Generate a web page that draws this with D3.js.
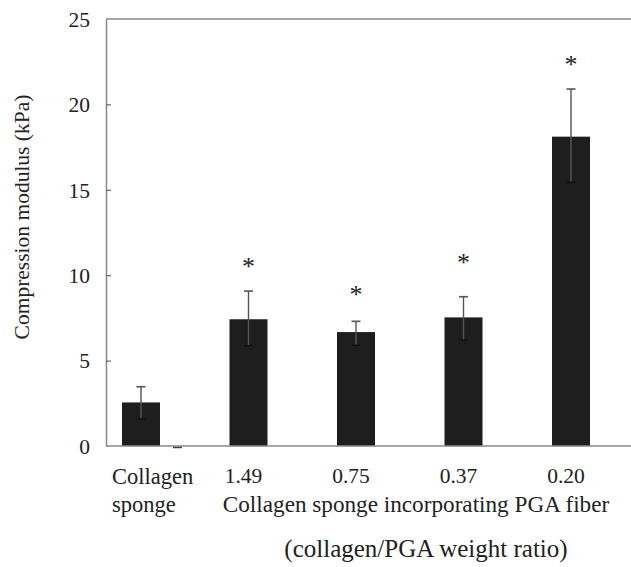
<!DOCTYPE html>
<html>
<head>
<meta charset="utf-8">
<script src="https://cdn.jsdelivr.net/npm/d3@7"></script>
<style>
  body { margin: 0; background: #fff; }
  svg text { font-family: "Liberation Serif", "Times New Roman", serif; fill: #222; }
</style>
</head>
<body>
<div id="chart"></div>
<script>
// groups along the x axis
const groups = ["Collagen sponge", "1.49", "0.75", "0.37", "0.20"];
// mean compression modulus (kPa)
const means = [2.55, 7.42, 6.67, 7.53, 18.11];
// upper / lower ends of the error bars (kPa)
const errHigh = [3.47, 9.07, 7.30, 8.74, 20.90];
const errLow = [1.58, 5.87, 5.90, 6.20, 15.44];
// where the significance stars sit (kPa), null = none
const stars = [null, 10.73, 9.09, 10.93, 22.56];
const yTicks = [0, 5, 10, 15, 20, 25];

const w = 631;
const h = 567;
const plotLeft = 106, plotRight = 631, plotTop = 19, plotBottom = 446;
const barW = 38;

const svg = d3.select("#chart").append("svg")
  .attr("width", w)
  .attr("height", h);

const x = d3.scalePoint()
  .domain(groups)
  .range([141, 571]);

const y = d3.scaleLinear()
  .domain([0, 25])
  .range([plotBottom, plotTop]);

// top frame line
svg.append("line")
  .attr("x1", plotLeft).attr("x2", plotRight)
  .attr("y1", plotTop).attr("y2", plotTop)
  .attr("stroke", "#8a8a8a").attr("stroke-width", 1.5);

// y axis (ticks pointing inward)
const yAxis = d3.axisRight(y)
  .tickValues(yTicks)
  .tickSize(5)
  .tickSizeOuter(0)
  .tickFormat(d3.format("d"));

const gy = svg.append("g")
  .attr("transform", `translate(${plotLeft},0)`)
  .call(yAxis);
gy.select(".domain").attr("stroke", "#8a8a8a").attr("stroke-width", 1.5);
gy.selectAll(".tick line").attr("stroke", "#666").attr("stroke-width", 1.2)
  .filter(d => d === 0 || d === 25).remove();
gy.selectAll(".tick text")
  .attr("x", -16)
  .attr("dy", "0.34em")
  .attr("text-anchor", "end")
  .style("font-size", "21.5px")
  .style("font-family", '"Liberation Serif", "Times New Roman", serif')
  .attr("fill", "#222");

// bars
svg.selectAll("rect.bar")
  .data(groups)
  .enter()
  .append("rect")
  .attr("class", "bar")
  .attr("x", d => x(d) - barW / 2)
  .attr("y", (d, i) => y(means[i]))
  .attr("width", barW)
  .attr("height", (d, i) => y(0) - y(means[i]))
  .attr("fill", "#1e1e1e");

// error bars
const eb = svg.selectAll("g.err")
  .data(groups)
  .enter()
  .append("g")
  .attr("class", "err");

eb.append("line")
  .attr("x1", d => x(d)).attr("x2", d => x(d))
  .attr("y1", (d, i) => y(errHigh[i]))
  .attr("y2", (d, i) => y(errLow[i]))
  .attr("stroke", "#555").attr("stroke-width", 1.4);

eb.append("line")
  .attr("x1", d => x(d) - 4.5).attr("x2", d => x(d) + 4.5)
  .attr("y1", (d, i) => y(errHigh[i]))
  .attr("y2", (d, i) => y(errHigh[i]))
  .attr("stroke", "#555").attr("stroke-width", 1.6);

eb.append("line")
  .attr("x1", d => x(d) - 4.5).attr("x2", d => x(d) + 4.5)
  .attr("y1", (d, i) => y(errLow[i]))
  .attr("y2", (d, i) => y(errLow[i]))
  .attr("stroke", "#111").attr("stroke-width", 1.6);

// stars
svg.selectAll("text.star")
  .data(groups.filter((d, i) => stars[i] !== null))
  .enter()
  .append("text")
  .attr("class", "star")
  .attr("x", d => x(d))
  .attr("y", d => y(stars[groups.indexOf(d)]) + 12)
  .attr("text-anchor", "middle")
  .style("font-size", "26px")
  .text("*");

// bottom axis line
svg.append("line")
  .attr("x1", plotLeft).attr("x2", plotRight)
  .attr("y1", plotBottom).attr("y2", plotBottom)
  .attr("stroke", "#8a8a8a").attr("stroke-width", 1.5);

// small mark just under the axis next to the first bar
svg.append("line")
  .attr("x1", x(groups[0]) + 32).attr("x2", x(groups[0]) + 41)
  .attr("y1", plotBottom + 1.5).attr("y2", plotBottom + 1.5)
  .attr("stroke", "#444").attr("stroke-width", 1.5);

// x labels
svg.append("text")
  .attr("x", 112).attr("y", 484)
  .style("font-size", "22.5px")
  .text("Collagen");
svg.append("text")
  .attr("x", 112).attr("y", 512)
  .style("font-size", "22.5px")
  .text("sponge");

svg.selectAll("text.xlab")
  .data(groups.slice(1))
  .enter()
  .append("text")
  .attr("class", "xlab")
  .attr("x", d => x(d) - 5)
  .attr("y", 483)
  .attr("text-anchor", "middle")
  .style("font-size", "21.5px")
  .text(d => d);

svg.append("text")
  .attr("x", 416).attr("y", 512)
  .attr("text-anchor", "middle")
  .style("font-size", "23.2px")
  .text("Collagen sponge incorporating PGA fiber");

svg.append("text")
  .attr("x", 426).attr("y", 557)
  .attr("text-anchor", "middle")
  .style("font-size", "25px")
  .text("(collagen/PGA weight ratio)");

// y title
svg.append("text")
  .attr("transform", "translate(29,217) rotate(-90)")
  .attr("text-anchor", "middle")
  .style("font-size", "21.5px")
  .text("Compression modulus (kPa)");
</script>
</body>
</html>
